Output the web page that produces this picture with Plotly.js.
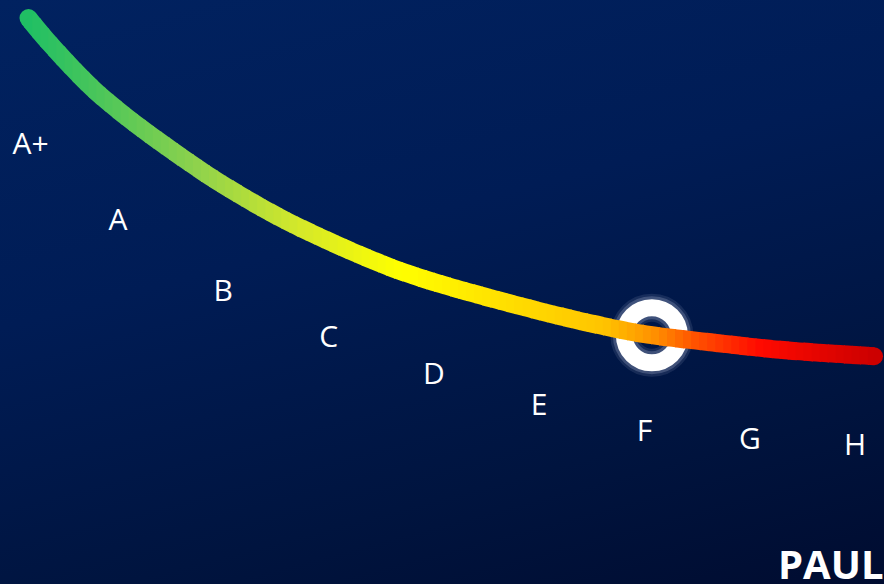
<!DOCTYPE html>
<html>
<head>
<meta charset="utf-8">
<script src="https://cdn.plot.ly/plotly-3.0.1.min.js"></script>
<style>
  html, body { margin: 0; padding: 0; width: 884px; height: 584px; overflow: hidden; }
  body { background: linear-gradient(165deg, #012260 0%, #001c55 40%, #00143f 75%, #000c30 100%); }
  #chart { width: 884px; height: 584px; }
</style>
</head>
<body>
<div id="chart"></div>
<script>
// ---- data ----
const grades  = ['A+', 'A', 'B', 'C', 'D', 'E', 'F', 'G', 'H'];
const gradeX  = [0.17, 1, 2, 3, 4, 5, 6, 7, 8];
const gradeY  = [74.9, 61.9, 49.7, 41.8, 35.5, 30.3, 25.7, 24.4, 23.3];

const curveX  = [0.15, 0.35, 0.83, 1.78, 2.35, 2.73, 3.68, 4.63, 5.70, 6.07, 6.43, 7.29, 8.18];
const curveY  = [96.9, 92.6, 83.7, 70.9, 64.6, 61.0, 53.6, 48.5, 43.8, 42.6, 41.8, 40.1, 39.0];

const currentX = [6.07];
const currentY = [42.6];
const currentGrade = 'F';

const curveColors = [
  [0.00, '#20bf64'], [0.085, '#4cc65a'], [0.20, '#8fd24c'], [0.32, '#d4e82a'],
  [0.44, '#ffff00'], [0.56, '#ffe000'], [0.68, '#ffc400'], [0.74, '#ff9000'],
  [0.79, '#ff5000'], [0.865, '#ff0a00'], [1.00, '#cc0000']
];

// ---- layout geometry ----
const W = 884, H = 584;
const xRange = [-0.1206, 8.2745];
const yRange = [0, 100];
const pxX = W / (xRange[1] - xRange[0]);
const lineWidth = 18;
const SLICES = 110;

function hexToRgb(h) { return [1, 3, 5].map(i => parseInt(h.substr(i, 2), 16)); }
function colorAt(t) {
  t = Math.max(0, Math.min(1, t));
  for (let i = 1; i < curveColors.length; i++) {
    if (t <= curveColors[i][0]) {
      const [t0, c0] = curveColors[i - 1], [t1, c1] = curveColors[i];
      const f = (t - t0) / (t1 - t0 || 1);
      const a = hexToRgb(c0), b = hexToRgb(c1);
      return 'rgb(' + a.map((v, k) => Math.round(v + (b[k] - v) * f)).join(',') + ')';
    }
  }
  return curveColors[curveColors.length - 1][1];
}

const x0 = curveX[0], x1 = curveX[curveX.length - 1];
const traces = [];
const layout = {
  width: W, height: H,
  margin: { l: 0, r: 0, t: 0, b: 0, pad: 0 },
  paper_bgcolor: 'rgba(0,0,0,0)', plot_bgcolor: 'rgba(0,0,0,0)',
  xaxis: { range: xRange, domain: [0, 1], visible: false, fixedrange: true },
  yaxis: { range: yRange, domain: [0, 1], visible: false, fixedrange: true },
  showlegend: false
};

// the curve: same line drawn in many narrow x-windows, each in its own colour
const span = (xRange[1] - xRange[0]) / SLICES;
const eps = 1.2 / pxX;
for (let k = 0; k < SLICES; k++) {
  const id = k + 2;
  const r0 = xRange[0] + k * span, r1 = r0 + span + eps;
  layout['xaxis' + id] = {
    range: [r0, r1], domain: [k / SLICES, Math.min(1, (k + 1) / SLICES + 1.2 / W)],
    anchor: 'y', visible: false, fixedrange: true
  };
  const mid = r0 + span / 2;
  traces.push({
    type: 'scatter', mode: 'lines', x: curveX, y: curveY,
    xaxis: 'x' + id, yaxis: 'y',
    line: { width: lineWidth, color: colorAt((mid - x0) / (x1 - x0)), shape: 'spline', smoothing: 1 },
    hoverinfo: 'skip', showlegend: false
  });
}

traces.push(
  { // round caps
    type: 'scatter', mode: 'markers',
    x: [curveX[0], curveX[curveX.length - 1]],
    y: [curveY[0], curveY[curveY.length - 1]],
    marker: { size: lineWidth, color: [colorAt(0), colorAt(1)], line: { width: 0 } },
    hoverinfo: 'skip', showlegend: false, cliponaxis: false
  },
  { // soft glow
    type: 'scatter', mode: 'markers', x: currentX, y: currentY,
    marker: { symbol: 'circle-open', size: 55, color: 'rgba(225,232,255,0.10)', line: { width: 28 } },
    hoverinfo: 'skip', showlegend: false, cliponaxis: false
  },
  {
    type: 'scatter', mode: 'markers', x: currentX, y: currentY,
    marker: { symbol: 'circle-open', size: 55, color: 'rgba(225,232,255,0.20)', line: { width: 23 } },
    hoverinfo: 'skip', showlegend: false, cliponaxis: false
  },
  { // current rating ring
    type: 'scatter', mode: 'markers', x: currentX, y: currentY,
    name: currentGrade,
    marker: { symbol: 'circle-open', size: 55, color: '#ffffff', line: { width: 17 } },
    hoverinfo: 'skip', showlegend: false, cliponaxis: false
  },
  { // grade labels
    type: 'scatter', mode: 'text', x: gradeX, y: gradeY, text: grades,
    textposition: 'middle center',
    textfont: { family: 'Open Sans, sans-serif', size: 30, color: '#ffffff' },
    hoverinfo: 'skip', showlegend: false, cliponaxis: false
  }
);

layout.annotations = [{
  text: '<b>PAUL</b>', xref: 'paper', yref: 'paper',
  x: 776 / W, y: (H - 563) / H, xanchor: 'left', yanchor: 'middle',
  showarrow: false,
  font: { family: 'Open Sans, sans-serif', size: 40, color: '#ffffff' }
}];

Plotly.newPlot('chart', traces, layout, { staticPlot: true, displayModeBar: false });
</script>
</body>
</html>
